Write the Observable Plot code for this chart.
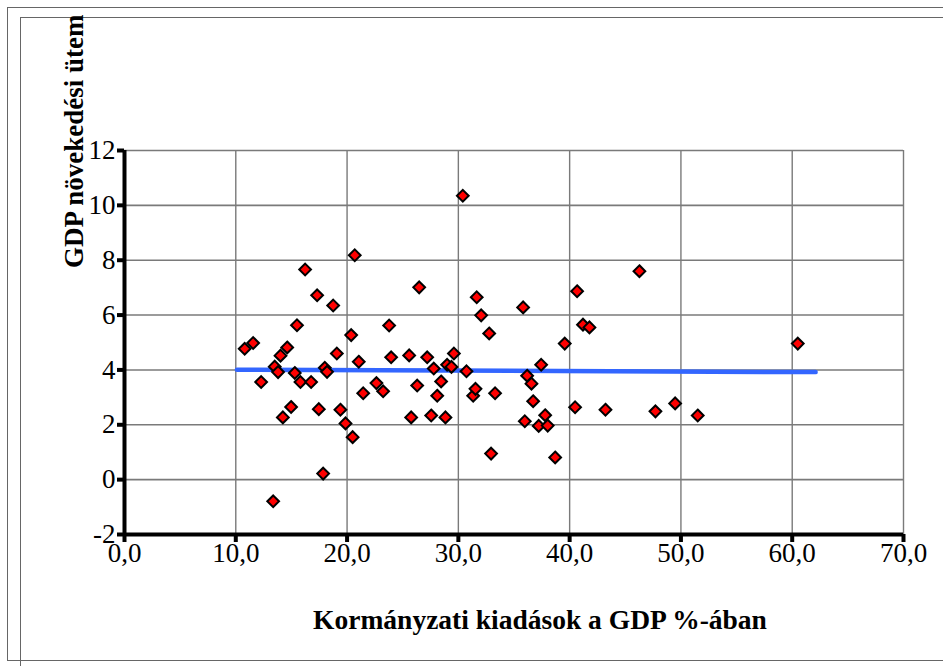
<!DOCTYPE html>
<html><head><meta charset="utf-8">
<script src="https://cdn.jsdelivr.net/npm/d3@7"></script>
<script src="https://cdn.jsdelivr.net/npm/@observablehq/plot@0.6"></script>
<style>
html,body{margin:0;padding:0;background:#fff;}
#wrap{position:relative;width:943px;height:666px;overflow:hidden;background:#fff;}
#outer{position:absolute;left:7px;top:7px;width:1000px;height:654px;border:1px solid #666;box-sizing:border-box;}
#inner{position:absolute;left:20px;top:17px;width:1000px;height:700px;border:1px solid #666;box-sizing:border-box;}
#chart{position:absolute;left:0;top:0;width:943px;height:666px;}
</style></head><body>
<div id="wrap"><div id="outer"></div><div id="inner"></div><div id="chart"></div></div>
<script>
const spending = [10.8, 11.56, 12.28, 13.5, 13.8, 13.36, 14.02, 14.62, 14.23, 14.97, 15.3, 15.5, 15.81, 16.23, 16.77, 17.31, 17.46, 17.85, 18.0, 18.2, 18.75, 19.08, 19.4, 19.86, 20.37, 20.5, 20.69, 21.05, 21.45, 22.64, 23.24, 23.78, 23.96, 25.58, 25.76, 26.3, 26.48, 27.2, 27.56, 27.79, 28.1, 28.45, 28.84, 28.99, 29.38, 29.6, 30.4, 30.73, 31.33, 31.54, 31.65, 32.05, 32.77, 32.94, 33.3, 35.82, 35.97, 36.18, 36.57, 36.72, 37.22, 37.44, 37.8, 38.03, 38.7, 39.56, 40.49, 40.67, 41.2, 41.78, 43.22, 46.27, 47.71, 49.48, 51.51, 60.5];
const growth = [4.77, 4.98, 3.56, 4.12, 3.92, -0.79, 4.52, 4.82, 2.27, 2.65, 3.89, 5.63, 3.56, 7.66, 3.56, 6.72, 2.57, 0.22, 4.08, 3.93, 6.35, 4.6, 2.55, 2.05, 5.27, 1.55, 8.18, 4.3, 3.15, 3.52, 3.22, 5.62, 4.46, 4.53, 2.27, 3.43, 7.01, 4.46, 2.34, 4.05, 3.06, 3.58, 2.27, 4.19, 4.11, 4.6, 10.35, 3.95, 3.06, 3.31, 6.65, 5.99, 5.33, 0.95, 3.15, 6.28, 2.13, 3.79, 3.5, 2.86, 1.96, 4.19, 2.35, 1.97, 0.81, 4.96, 2.64, 6.87, 5.65, 5.55, 2.55, 7.6, 2.49, 2.78, 2.34, 4.96];
const trendX = [10.1, 62.1];
const trendY = [4.01, 3.92];
const xTicks = [0, 10, 20, 30, 40, 50, 60, 70];
const yTicks = [-2, 0, 2, 4, 6, 8, 10, 12];
const xTitle = "Kormányzati kiadások a GDP %-ában";
const yTitle = "GDP növekedési ütem";

const data = spending.map((x, i) => ({x, y: growth[i]}));
const trend = trendX.map((x, i) => ({x, y: trendY[i]}));
const serif = "Liberation Serif";
const fmtX = d => d.toFixed(1).replace(".", ",");

const chart = Plot.plot({
  width: 943, height: 666,
  marginLeft: 124, marginRight: 40, marginTop: 150, marginBottom: 132,
  style: {fontFamily: serif, fontSize: "27px"},
  x: {domain: [0, 70], label: null},
  y: {domain: [-2, 12], label: null},
  marks: [
    Plot.ruleX(xTicks.slice(1), {stroke: "#7a7a7a", strokeWidth: 1.4}),
    Plot.ruleY(yTicks.slice(1), {stroke: "#7a7a7a", strokeWidth: 1.6}),
    Plot.line(trend, {x: "x", y: "y", stroke: "#3366ff", strokeWidth: 4.5}),
    Plot.dot(data, {x: "x", y: "y", symbol: "diamond2", r: 5.3, fill: "#ff0000", stroke: "#000", strokeWidth: 2}),
    Plot.ruleX([0], {stroke: "#000", strokeWidth: 4}),
    Plot.ruleY([-2], {stroke: "#000", strokeWidth: 4}),
    Plot.axisY({ticks: yTicks, tickSize: 7, strokeWidth: 4, stroke: "#000", tickFormat: () => ""}),
    Plot.axisX({ticks: xTicks, tickSize: 8, strokeWidth: 4, stroke: "#000", tickFormat: () => ""}),
    Plot.text(yTicks, {x: 0, y: d => d, text: d => String(d), textAnchor: "end", dx: -9, fontSize: 27, fontFamily: serif, fill: "#000"}),
    Plot.text(xTicks, {x: d => d, y: -2, text: fmtX, dy: 19, fontSize: 27, fontFamily: serif, fill: "#000"})
  ]
});

const svg = d3.select(chart);
svg.append("text")
  .attr("x", 540).attr("y", 629)
  .attr("text-anchor", "middle")
  .attr("font-family", serif).attr("font-weight", "bold").attr("font-size", 27.5)
  .text(xTitle);
svg.append("text")
  .attr("transform", "translate(83,268) rotate(-90)")
  .attr("text-anchor", "start")
  .attr("font-family", serif).attr("font-weight", "bold").attr("font-size", 27)
  .text(yTitle);

document.getElementById("chart").appendChild(chart);
</script>
</body></html>
